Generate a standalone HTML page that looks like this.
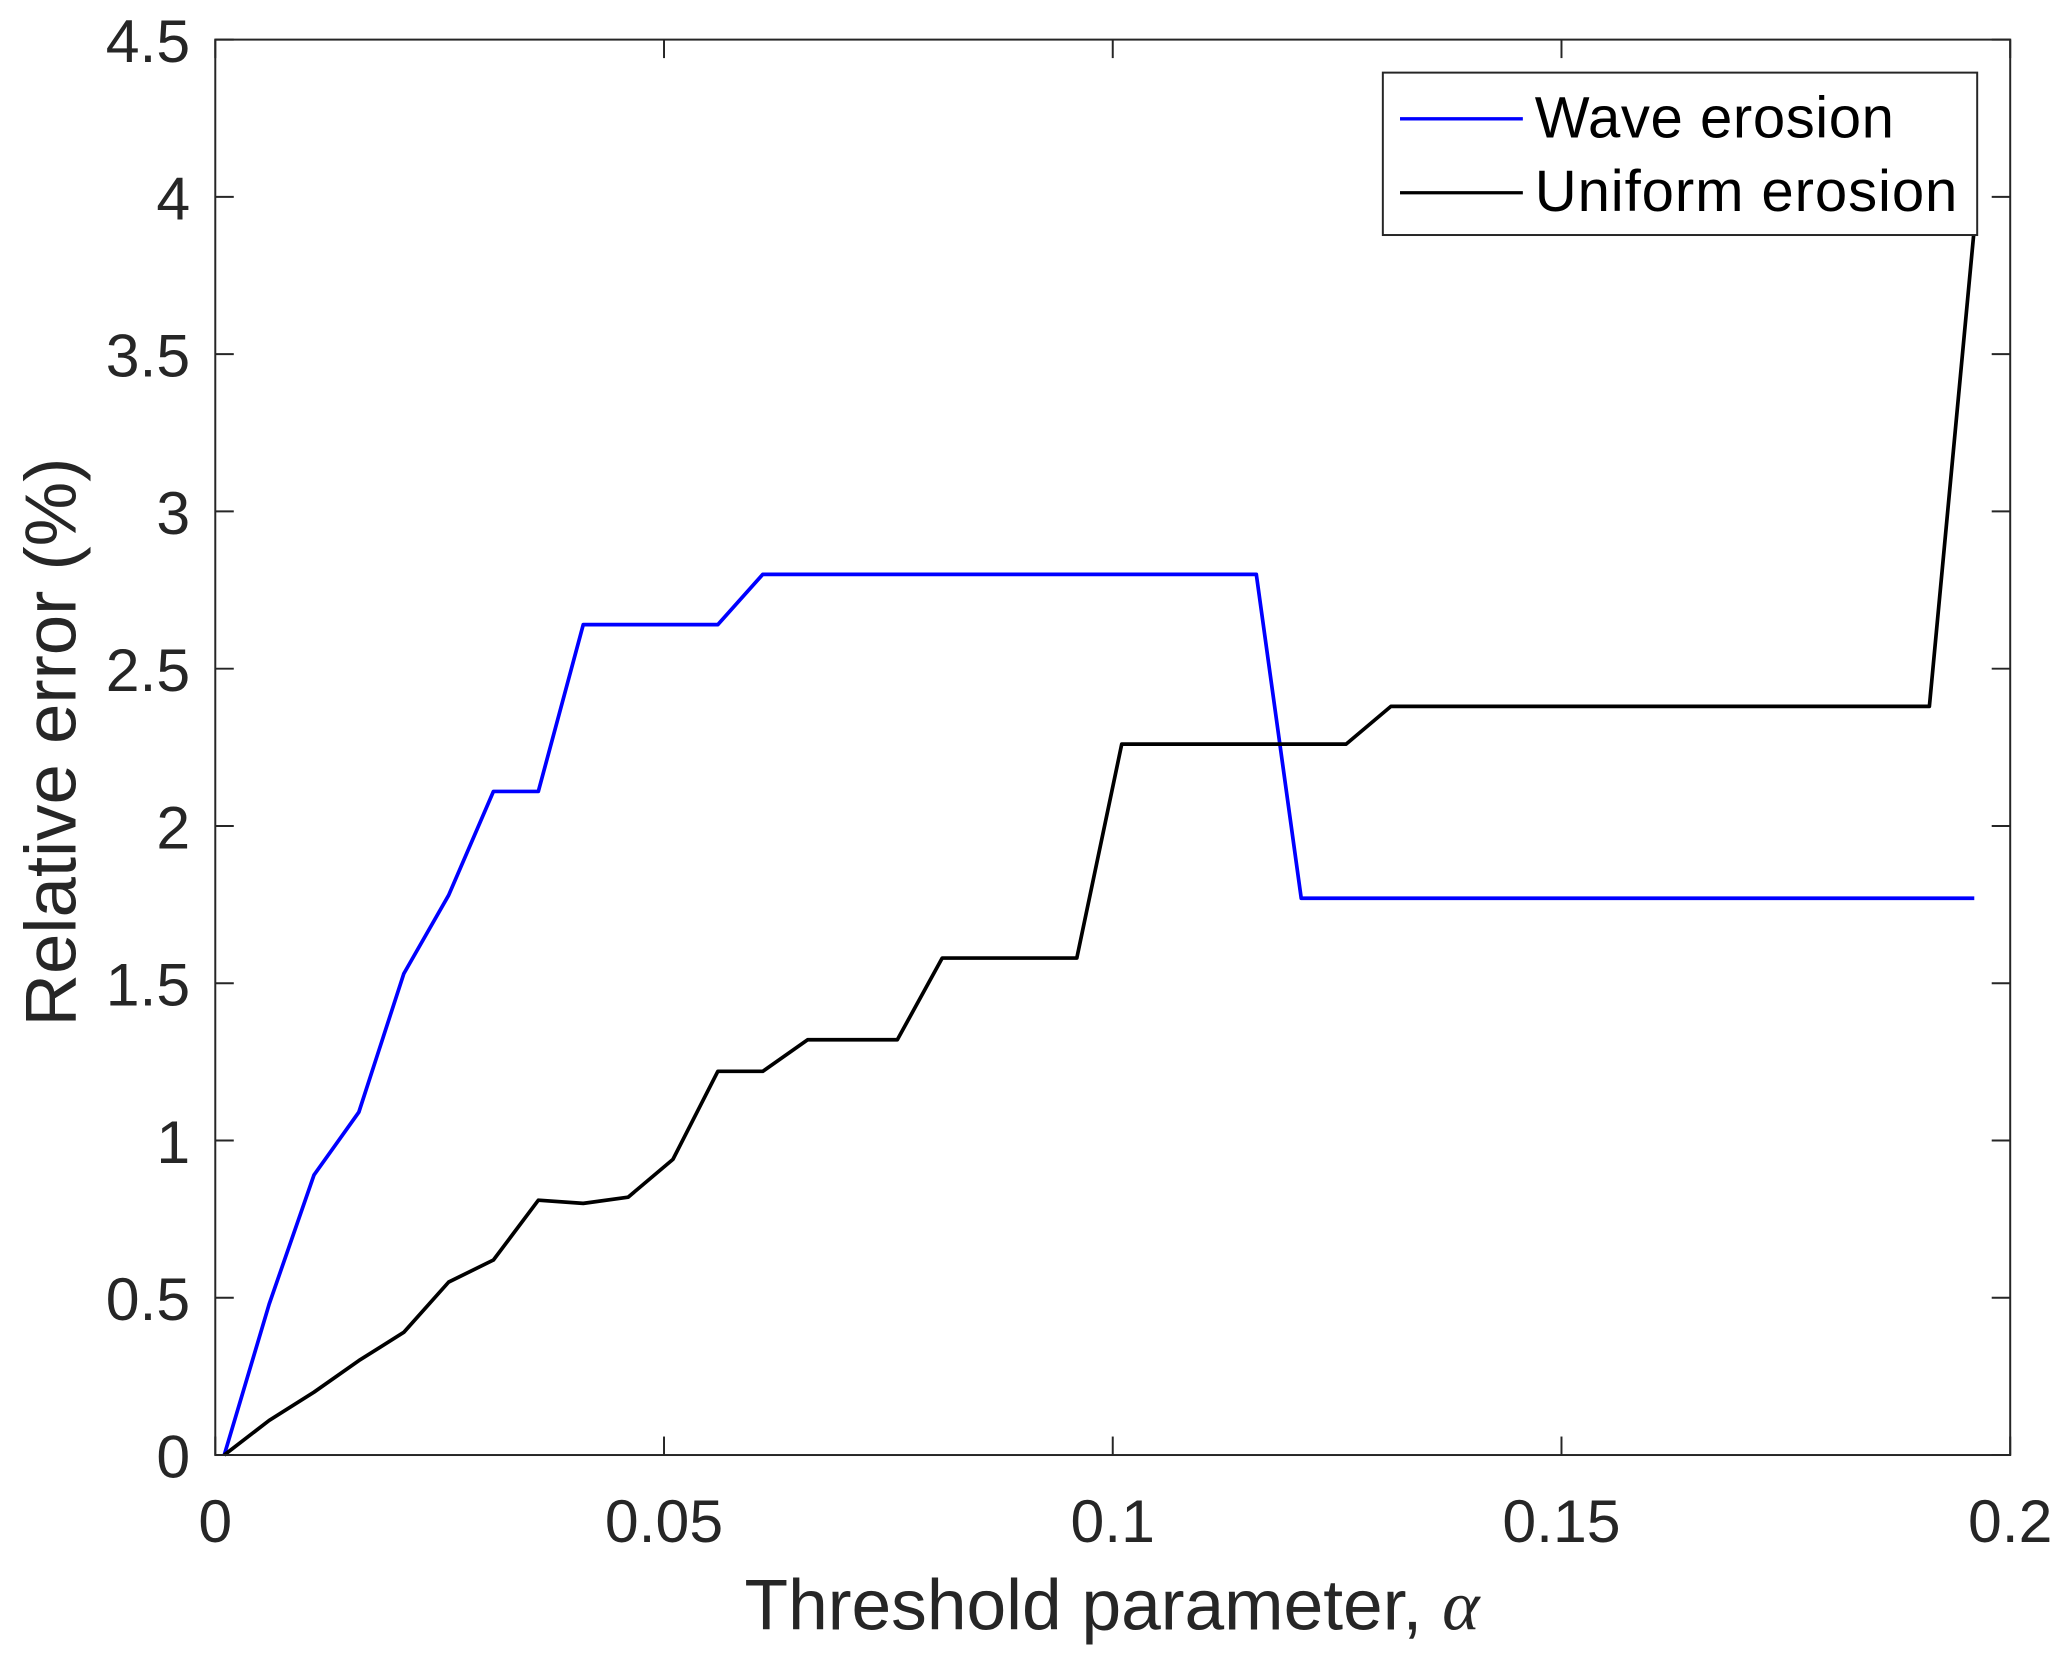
<!DOCTYPE html>
<html><head><meta charset="utf-8"><style>
html,body{margin:0;padding:0;background:#fff;}
svg{display:block;font-family:"Liberation Sans",sans-serif;}
</style></head><body>
<svg id="chart" width="2067" height="1661" viewBox="0 0 1565 1258" preserveAspectRatio="none" xmlns="http://www.w3.org/2000/svg">
<rect x="0" y="0" width="1565" height="1258" fill="#fff"/>
<g id="ticks"></g>
<g id="series"></g>
<rect x="163" y="30" width="1359" height="1072" fill="none" stroke="#262626" stroke-width="1.5"/>
<text x="842" y="1234" font-size="54" text-anchor="middle" fill="#262626">Threshold parameter, <tspan font-family="Liberation Serif" font-style="italic">α</tspan></text>
<text transform="translate(57,562) rotate(-90)" font-size="55" text-anchor="middle" fill="#262626">Relative error (%)</text>
<g>
<rect x="1047" y="55" width="450" height="123" fill="#fff" stroke="#262626" stroke-width="1.5"/>
<line x1="1060" y1="90" x2="1153" y2="90" stroke="#0000ff" stroke-width="2.5"/>
<text x="1162" y="104" font-size="44" textLength="272" fill="#000">Wave erosion</text>
<line x1="1060" y1="146" x2="1153" y2="146" stroke="#000" stroke-width="2.5"/>
<text x="1162" y="160" font-size="44" textLength="320" fill="#000">Uniform erosion</text>
</g>
</svg>
<script>
const xs = [0.001,0.006,0.011,0.016,0.021,0.026,0.031,0.036,0.041,0.046,0.051,0.056,0.061,0.066,0.071,0.076,0.081,0.086,0.091,0.096,0.101,0.106,0.111,0.116,0.121,0.126,0.131,0.136,0.141,0.146,0.151,0.156,0.161,0.166,0.171,0.176,0.181,0.186,0.191,0.196];
const waveErosion = [0,0.48,0.89,1.09,1.53,1.78,2.11,2.11,2.64,2.64,2.64,2.64,2.80,2.80,2.80,2.80,2.80,2.80,2.80,2.80,2.80,2.80,2.80,2.80,1.77,1.77,1.77,1.77,1.77,1.77,1.77,1.77,1.77,1.77,1.77,1.77,1.77,1.77,1.77,1.77];
const uniformErosion = [0,0.11,0.20,0.30,0.39,0.55,0.62,0.81,0.80,0.82,0.94,1.22,1.22,1.32,1.32,1.32,1.58,1.58,1.58,1.58,2.26,2.26,2.26,2.26,2.26,2.26,2.38,2.38,2.38,2.38,2.38,2.38,2.38,2.38,2.38,2.38,2.38,2.38,2.38,3.90];
const xTicks = [0,0.05,0.1,0.15,0.2];
const xTickLabels = ["0","0.05","0.1","0.15","0.2"];
const yTicks = [0,0.5,1,1.5,2,2.5,3,3.5,4,4.5];
const yTickLabels = ["0","0.5","1","1.5","2","2.5","3","3.5","4","4.5"];

const L=163,R=1522,T=30,B=1102;
const sx=v=>L+(v-0)/(0.2-0)*(R-L);
const sy=v=>B-(v-0)/(4.5-0)*(B-T);
const NS="http://www.w3.org/2000/svg";
const ticks=document.getElementById('ticks');
const series=document.getElementById('series');
function mk(tag,attrs,parent){const e=document.createElementNS(NS,tag);for(const k in attrs)e.setAttribute(k,attrs[k]);parent.appendChild(e);return e;}
xTicks.forEach((v,i)=>{
  const x=sx(v);
  const t1=mk('line',{x1:x,y1:B,x2:x,y2:B-14,stroke:'#262626','stroke-width':1.5},ticks);
  
  
  const t2=mk('line',{x1:x,y1:T,x2:x,y2:T+14,stroke:'#262626','stroke-width':1.5},ticks);
  
  
  const tx=mk('text',{x:x,y:B+66,'font-size':46,'text-anchor':'middle',fill:'#262626'},ticks);
  tx.textContent=xTickLabels[i];
  
  
});
yTicks.forEach((v,i)=>{
  const y=sy(v);
  const t1=mk('line',{x1:L,y1:y,x2:L+14,y2:y,stroke:'#262626','stroke-width':1.5},ticks);
  
  
  const t2=mk('line',{x1:R,y1:y,x2:R-14,y2:y,stroke:'#262626','stroke-width':1.5},ticks);
  
  
  const tx=mk('text',{x:L-19,y:y+17,'font-size':46,'text-anchor':'end',fill:'#262626'},ticks);
  tx.textContent=yTickLabels[i];
  
  
});
function line(vals,color,name){
  const d=vals.map((v,i)=>(i?'L':'M')+sx(xs[i]).toFixed(1)+','+sy(v).toFixed(1)).join(' ');
  const p=mk('path',{d:d,fill:'none',stroke:color,'stroke-width':2.8,'stroke-linejoin':'round'},series);
  
  
}
line(waveErosion,'#0000ff','wave-erosion-line');
line(uniformErosion,'#000000','uniform-erosion-line');
</script>
</body></html>
